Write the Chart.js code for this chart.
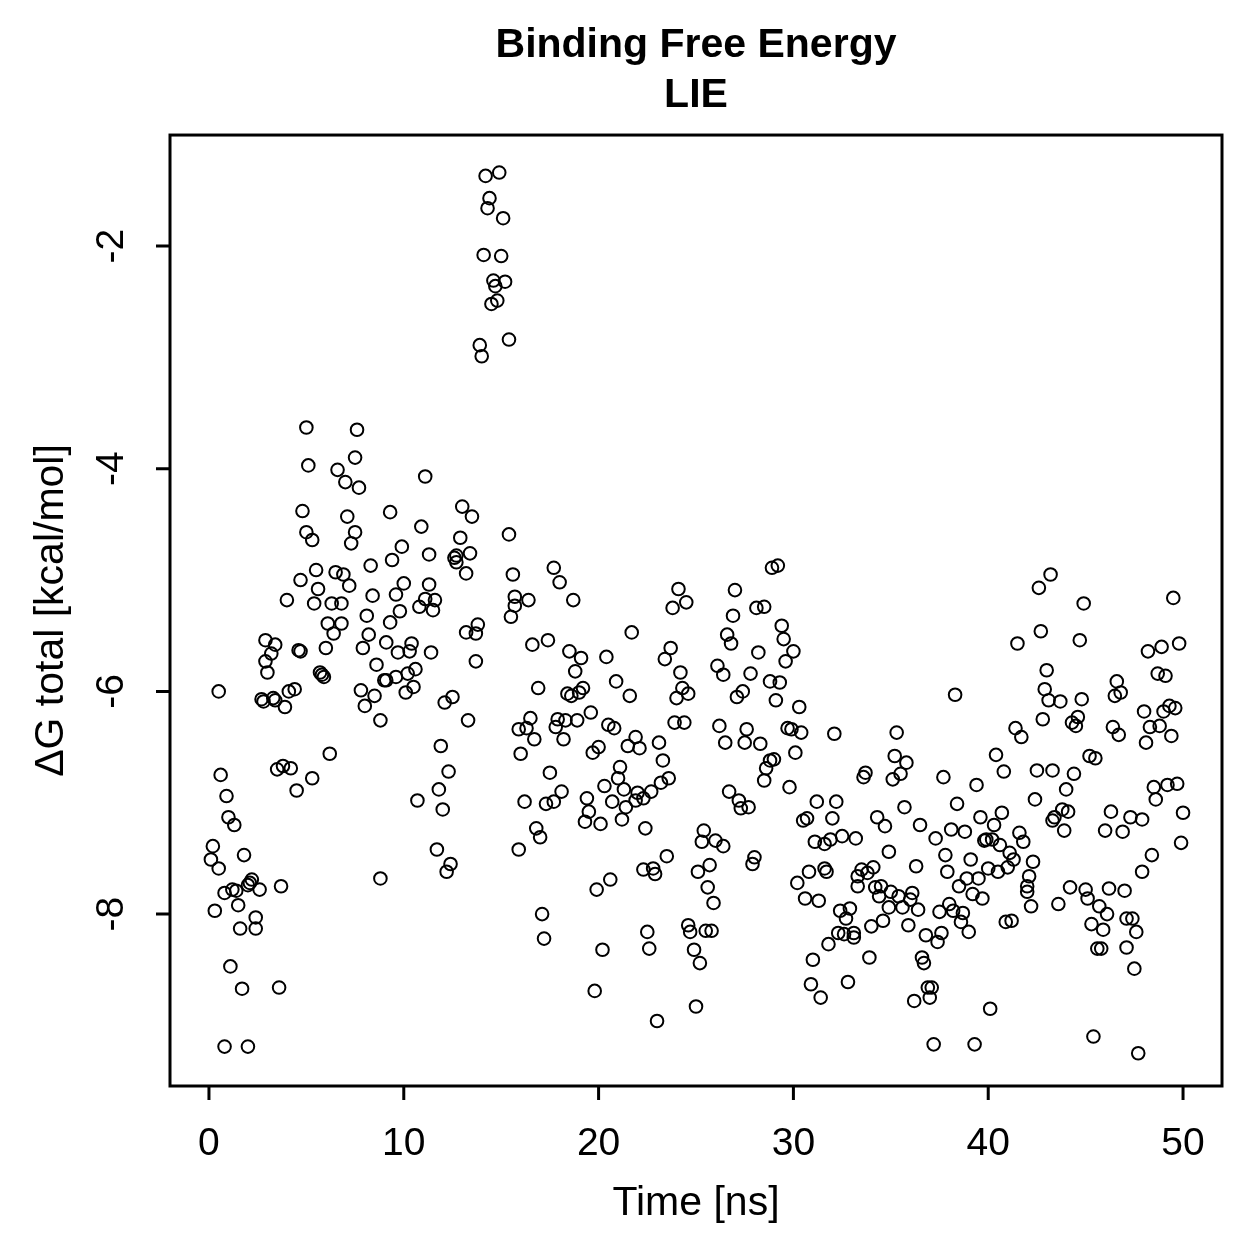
<!DOCTYPE html>
<html lang="en">
<head>
  <meta charset="UTF-8" />
  <title>Binding Free Energy - LIE</title>
  <script src="https://cdn.jsdelivr.net/npm/chart.js"></script>
  <style>
    body { margin: 0; background: #fff; }
    canvas { display: block; }
  </style>
</head>
<body>
  <canvas id="lieChart" width="1259" height="1259"></canvas>

  <script>
    // time [ns] and dG total [kcal/mol]
    const timeNs = [
      0.1,0.2,0.3,0.5,0.5,0.6,0.8,0.8,0.9,1.0,1.1,1.2,1.3,1.4,1.5,1.6,1.7,1.8,2.0,2.0,2.1,2.2,2.4,2.4,2.6,
      2.7,2.8,2.9,2.9,3.0,3.2,3.3,3.4,3.4,3.5,3.6,3.7,3.8,3.9,4.0,4.1,4.2,4.4,4.5,4.6,4.7,4.7,
      4.8,5.0,5.0,5.1,5.3,5.3,5.4,5.5,5.6,5.7,5.8,5.9,6.0,6.1,6.3,6.2,6.4,6.5,6.6,6.8,6.8,6.9,7.0,7.1,7.2,7.3,
      7.5,7.5,7.6,7.7,7.8,7.9,8.0,8.1,8.2,8.3,8.4,8.5,8.6,8.8,8.8,9.0,9.1,9.1,9.3,9.3,9.4,9.6,9.6,9.7,9.8,9.9,
      10.0,10.1,10.2,10.3,10.4,10.5,10.6,10.7,10.8,10.9,11.1,11.1,11.3,11.3,11.4,11.5,11.6,11.7,11.8,11.9,12.0,12.1,12.2,12.3,12.4,
      12.5,12.6,12.7,12.7,12.9,13.0,13.2,13.2,13.3,13.4,13.5,13.7,13.7,13.8,13.9,14.0,14.1,14.2,14.3,14.4,14.5,14.6,14.7,14.8,14.9,15.0,15.1,15.2,
      15.4,15.4,15.5,15.6,15.7,15.7,15.9,15.9,16.0,16.2,16.3,16.4,16.5,16.6,16.7,16.8,16.9,17.0,17.1,17.2,17.3,17.4,17.5,
      17.7,17.7,17.8,17.9,18.0,18.1,18.2,18.3,18.4,18.5,18.6,18.7,18.8,18.9,19.0,19.1,19.2,19.3,19.4,19.5,19.6,19.7,19.8,19.9,20.0,20.1,
      20.2,20.3,20.4,20.5,20.6,20.7,20.8,20.9,21.0,21.1,21.2,21.3,21.4,21.5,21.6,21.7,21.9,21.9,22.0,22.1,22.3,22.3,22.4,22.5,22.6,22.7,
      22.8,22.9,23.0,23.1,23.2,23.3,23.4,23.5,23.6,23.7,23.8,23.9,24.0,24.1,24.2,24.3,24.4,24.5,24.6,24.6,24.7,24.9,25.0,25.1,25.2,
      25.3,25.4,25.5,25.6,25.7,25.8,25.9,26.0,26.1,26.2,26.4,26.4,26.5,26.6,26.7,26.8,26.9,27.0,27.1,27.2,27.3,27.4,27.5,27.6,27.7,27.8,
      27.9,28.0,28.1,28.2,28.3,28.5,28.5,28.6,28.8,28.8,28.9,29.0,29.1,29.2,29.3,29.4,29.5,29.6,29.7,29.8,29.9,30.0,30.1,30.2,30.3,
      30.4,30.5,30.6,30.7,30.8,30.9,31.0,31.1,31.2,31.3,31.4,31.6,31.6,31.7,31.8,31.9,32.0,32.1,32.2,32.3,32.4,32.5,32.6,32.7,32.8,32.9,
      33.1,33.1,33.2,33.3,33.3,33.5,33.6,33.7,33.8,33.9,34.0,34.1,34.2,34.3,34.4,34.5,34.6,34.7,34.9,34.9,35.0,35.1,35.2,35.3,35.4,35.5,
      35.6,35.7,35.8,35.9,36.0,36.1,36.2,36.3,36.4,36.5,36.6,36.7,36.8,36.9,37.0,37.1,37.2,37.3,37.4,37.5,37.6,37.7,37.8,37.9,38.0,
      38.1,38.2,38.3,38.4,38.5,38.6,38.7,38.8,38.9,39.0,39.1,39.2,39.3,39.4,39.5,39.6,39.7,39.8,39.9,40.0,40.1,40.2,40.3,40.4,40.5,40.6,
      40.7,40.8,40.9,41.0,41.1,41.2,41.3,41.4,41.5,41.6,41.7,41.8,42.0,42.0,42.1,42.2,42.3,42.4,42.5,42.6,42.7,42.8,42.9,43.0,43.1,
      43.2,43.3,43.3,43.4,43.6,43.7,43.8,43.9,44.0,44.1,44.2,44.3,44.4,44.5,44.6,44.7,44.8,44.9,45.0,45.1,45.2,45.3,45.4,45.5,45.6,45.7,
      45.8,45.9,46.0,46.1,46.2,46.3,46.4,46.5,46.6,46.7,46.8,46.9,47.0,47.1,47.1,47.3,47.4,47.5,47.6,47.7,47.9,47.9,48.0,48.1,48.2,
      48.3,48.4,48.5,48.6,48.7,48.8,48.9,49.0,49.1,49.2,49.3,49.4,49.5,49.6,49.7,49.8,49.9,50.0
    ];
    const deltaG = [
      -7.51,-7.39,-7.97,-7.59,-6.00,-6.75,-9.19,-7.81,-6.94,-7.13,-8.47,-7.78,-7.20,-7.79,-7.92,-8.13,-8.67,-7.47,-7.74,-9.19,-7.72,-7.69,-8.03,-8.13,-7.78,
      -6.07,-6.09,-5.54,-5.73,-5.83,-5.66,-6.06,-6.08,-5.58,-6.70,-8.66,-7.75,-6.67,-6.14,-5.18,-6.00,-6.69,-5.98,-6.89,-5.63,-5.64,-5.00,
      -4.38,-4.57,-3.63,-3.97,-4.64,-6.78,-5.21,-4.91,-5.08,-5.83,-5.85,-5.87,-5.61,-5.39,-5.21,-6.56,-5.48,-4.93,-4.01,-5.21,-5.39,-4.95,-4.12,-4.43,-5.05,-4.67,
      -4.57,-3.90,-3.65,-4.17,-5.99,-5.61,-6.13,-5.32,-5.49,-4.87,-5.14,-6.04,-5.76,-6.26,-7.68,-5.90,-5.90,-5.56,-4.39,-5.38,-4.82,-5.13,-5.87,-5.65,-5.28,-4.70,
      -5.03,-6.01,-5.84,-5.64,-5.57,-5.96,-5.80,-6.98,-5.24,-4.52,-4.07,-5.17,-4.77,-5.04,-5.65,-5.27,-5.18,-7.42,-6.88,-6.49,-7.06,-6.10,-7.62,-6.72,-7.55,
      -6.05,-4.80,-4.78,-4.84,-4.62,-4.34,-5.47,-4.94,-6.26,-4.76,-4.43,-5.48,-5.73,-5.40,-2.89,-2.99,-2.08,-1.37,-1.66,-1.57,-2.52,-2.31,-2.36,-2.49,-1.34,-2.09,-1.75,-2.32,
      -2.84,-4.59,-5.33,-4.95,-5.23,-5.15,-6.34,-7.42,-6.56,-6.99,-6.33,-5.18,-6.24,-5.58,-6.43,-7.23,-5.97,-7.31,-8.00,-8.22,-7.01,-5.54,-6.73,
      -6.99,-4.89,-6.32,-6.25,-5.02,-6.90,-6.43,-6.26,-6.02,-5.64,-6.04,-5.18,-5.82,-6.26,-6.01,-5.70,-5.97,-7.17,-6.96,-7.08,-6.19,-6.55,-8.69,-7.78,-6.50,-7.19,
      -8.32,-6.85,-5.69,-6.30,-7.69,-6.99,-6.33,-5.91,-6.78,-6.68,-7.15,-6.88,-7.04,-6.49,-6.04,-5.47,-6.98,-6.41,-6.91,-6.51,-6.96,-7.60,-7.23,-8.16,-8.31,-6.90,
      -7.59,-7.64,-8.96,-6.46,-6.82,-6.62,-5.71,-7.48,-6.78,-5.61,-5.25,-6.28,-6.06,-5.08,-5.83,-5.97,-6.28,-5.20,-6.02,-8.10,-8.16,-8.32,-8.83,-7.62,-8.44,
      -7.35,-7.25,-8.15,-7.76,-7.56,-8.15,-7.90,-7.34,-5.77,-6.31,-5.85,-7.39,-6.46,-5.49,-6.90,-5.57,-5.32,-5.09,-6.05,-6.98,-7.05,-6.00,-6.46,-6.34,-7.04,-5.84,
      -7.55,-7.49,-5.25,-5.65,-6.47,-5.24,-6.80,-6.69,-6.62,-5.91,-4.89,-6.61,-6.08,-4.87,-5.92,-5.41,-5.53,-5.73,-6.33,-6.86,-6.34,-5.64,-6.55,-7.72,-6.14,
      -6.37,-7.16,-7.86,-7.14,-7.62,-8.63,-8.41,-7.35,-6.99,-7.88,-8.75,-7.37,-7.59,-7.62,-8.27,-7.33,-7.14,-6.38,-6.99,-8.17,-7.97,-7.30,-8.18,-8.04,-8.61,-7.95,
      -8.17,-8.21,-7.32,-7.75,-7.66,-7.60,-6.77,-6.73,-7.63,-8.39,-8.11,-7.58,-7.76,-7.13,-7.84,-7.75,-8.06,-7.21,-7.94,-7.44,-7.80,-6.79,-6.58,-6.37,-7.84,-6.74,
      -7.94,-7.04,-6.64,-8.10,-7.87,-7.81,-8.78,-7.57,-7.96,-7.20,-8.39,-8.44,-8.19,-8.66,-8.75,-8.66,-9.17,-7.32,-8.25,-7.98,-8.17,-6.77,-7.47,-7.62,-7.91,
      -7.24,-7.97,-6.03,-7.01,-7.75,-8.07,-7.99,-7.26,-7.68,-8.16,-7.51,-7.82,-9.17,-6.84,-7.68,-7.13,-7.86,-7.34,-7.33,-7.59,-8.85,-7.33,-7.20,-6.57,-7.62,-7.38,
      -7.09,-6.72,-8.07,-7.58,-7.45,-8.06,-7.51,-6.33,-5.57,-7.27,-6.41,-7.35,-7.75,-7.80,-7.66,-7.93,-7.53,-6.97,-6.71,-5.07,-5.46,-6.25,-5.98,-5.81,-6.08,
      -4.95,-6.71,-7.16,-7.13,-7.91,-6.09,-7.06,-7.25,-6.88,-7.08,-7.76,-6.28,-6.74,-6.31,-6.23,-5.54,-6.07,-5.21,-7.78,-7.86,-6.58,-8.09,-9.10,-6.60,-8.31,-7.93,
      -8.31,-8.14,-7.25,-8.00,-7.77,-7.08,-6.32,-6.04,-5.91,-6.39,-6.01,-7.26,-7.79,-8.30,-8.04,-7.13,-8.04,-8.49,-8.16,-9.25,-7.15,-7.62,-6.18,-6.46,-5.64,
      -6.32,-7.47,-6.86,-6.97,-5.84,-6.31,-5.60,-6.18,-5.86,-6.84,-6.13,-6.40,-5.16,-6.15,-6.83,-5.57,-7.36,-7.09
    ];
    const xTicks = [0, 10, 20, 30, 40, 50];
    const yTicks = [-8, -6, -4, -2];

    const points = timeNs.map((t, i) => ({ x: t, y: deltaG[i] }));

    // R style frame: box round the plot and outward tick marks
    const rFrame = {
      id: 'rFrame',
      afterDraw(chart) {
        const { ctx, chartArea: a, scales: { x, y } } = chart;
        const len = 14;
        ctx.save();
        ctx.strokeStyle = '#000';
        ctx.lineWidth = 3;
        ctx.strokeRect(a.left, a.top, a.right - a.left, a.bottom - a.top);
        ctx.beginPath();
        xTicks.forEach(v => {
          const px = x.getPixelForValue(v);
          ctx.moveTo(px, a.bottom);
          ctx.lineTo(px, a.bottom + len);
        });
        yTicks.forEach(v => {
          const py = y.getPixelForValue(v);
          ctx.moveTo(a.left, py);
          ctx.lineTo(a.left - len, py);
        });
        ctx.stroke();
        ctx.restore();
      }
    };

    Chart.defaults.font.family = "'Liberation Sans', Arial, Helvetica, sans-serif";
    Chart.defaults.color = '#000';

    new Chart(document.getElementById('lieChart'), {
      type: 'scatter',
      data: {
        datasets: [{
          data: points,
          pointStyle: 'circle',
          pointRadius: 6.3,
          borderWidth: 2,
          borderColor: '#000',
          backgroundColor: 'rgba(0,0,0,0)'
        }]
      },
      options: {
        responsive: false,
        animation: false,
        devicePixelRatio: 1,
        layout: { padding: { right: 37 } },
        plugins: {
          legend: { display: false },
          tooltip: { enabled: false },
          title: {
            display: true,
            fullSize: false,
            text: ['Binding Free Energy', 'LIE'],
            color: '#000',
            font: { size: 41, weight: 'bold', lineHeight: 1.22 },
            padding: { top: 21, bottom: 14 }
          }
        },
        scales: {
          x: {
            type: 'linear',
            min: -2,
            max: 52,
            grid: { display: false },
            border: { display: false },
            afterBuildTicks: s => { s.ticks = xTicks.map(v => ({ value: v })); },
            afterFit: s => { s.height = 173; },
            ticks: { font: { size: 39 }, padding: 27, maxRotation: 0 },
            title: {
              display: true,
              text: 'Time [ns]',
              font: { size: 41 },
              padding: { top: 0, bottom: 31 }
            }
          },
          y: {
            type: 'linear',
            min: -9.544,
            max: -1.003,
            grid: { display: false },
            border: { display: false },
            afterBuildTicks: s => { s.ticks = yTicks.map(v => ({ value: v })); },
            afterFit: s => { s.width = 170; },
            ticks: { font: { size: 39 }, padding: 32, minRotation: 90, maxRotation: 90, crossAlign: 'center' },
            title: {
              display: true,
              text: 'ΔG total [kcal/mol]',
              font: { size: 41 },
              padding: { top: 27, bottom: 0 }
            }
          }
        }
      },
      plugins: [rFrame]
    });
  </script>
</body>
</html>
